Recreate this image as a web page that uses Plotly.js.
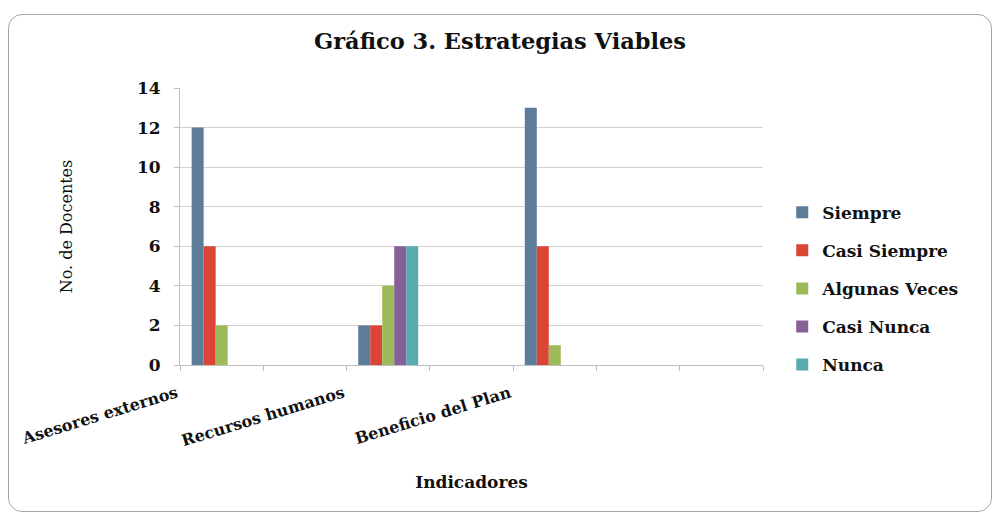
<!DOCTYPE html>
<html>
<head>
<meta charset="utf-8">
<script src="https://cdn.plot.ly/plotly-3.0.1.min.js"></script>
<style>
html,body{margin:0;padding:0;background:#fff;}
#chart{width:1000px;height:517px;}
#frame{position:absolute;left:8px;top:14px;width:982px;height:496px;border:1.5px solid #a6a6a6;border-radius:14px;pointer-events:none;}
</style>
</head>
<body>
<div id="chart"></div>
<div id="frame"></div>
<script>
// Category slots on the x axis (only three are labelled in the reference)
var categories = ["Asesores externos", " ", "Recursos humanos", "  ", "Beneficio del Plan", "   ", "    "];
var seriesNames = ["Siempre", "Casi Siempre", "Algunas Veces", "Casi Nunca", "Nunca"];
var siempre      = [12, null, 2, null, 13, null, null];
var casiSiempre  = [6,  null, 2, null, 6,  null, null];
var algunasVeces = [2,  null, 4, null, 1,  null, null];
var casiNunca    = [0,  null, 6, null, 0,  null, null];
var nunca        = [0,  null, 6, null, 0,  null, null];
var colors = ["#5d7c99", "#dc4436", "#9cbb58", "#87609a", "#5aabb0"];
var yTicks = [0, 2, 4, 6, 8, 10, 12, 14];

var values = [siempre, casiSiempre, algunasVeces, casiNunca, nunca];
var serif = "DejaVu Serif, Liberation Serif, serif";

var traces = values.map(function (v, i) {
  return {
    type: "bar",
    name: seriesNames[i],
    x: categories,
    y: v,
    legendgroup: "g" + i,
    marker: {color: colors[i]},
    hoverinfo: "x+y+name"
  };
});

var layout = {
  width: 1000,
  height: 517,
  margin: {l: 180, r: 237, t: 88, b: 152},
  paper_bgcolor: "#ffffff",
  plot_bgcolor: "#ffffff",
  barmode: "group",
  bargap: 0.28,
  bargroupgap: 0,
  showlegend: true,
  title: {
    text: "<b>Gráfico 3. Estrategias Viables</b>",
    font: {family: serif, size: 22.5, color: "#111"},
    x: 0.5, xref: "container", xanchor: "center",
    y: 0.935, yref: "container"
  },
  xaxis: {
    type: "category",
    categoryorder: "array",
    categoryarray: categories,
    tickson: "boundaries",
    ticks: "outside",
    ticklen: 5,
    tickcolor: "#bfbfbf",
    showline: true,
    linecolor: "#bfbfbf",
    linewidth: 1,
    showgrid: false,
    tickangle: -17,
    ticklabelshift: -45,
    ticklabelstandoff: 12,
    tickfont: {family: serif, size: 16, color: "#111", weight: "bold"},
    title: {
      text: "<b>Indicadores</b>",
      font: {family: serif, size: 17, color: "#111"},
      standoff: 26
    },
    automargin: false
  },
  yaxis: {
    range: [0, 14],
    tickvals: yTicks,
    ticktext: yTicks.map(String),
    ticks: "outside",
    ticklen: 5,
    tickcolor: "#bfbfbf",
    ticklabelstandoff: 10,
    showline: true,
    linecolor: "#bfbfbf",
    linewidth: 1,
    showgrid: true,
    gridcolor: "#d6cfcf",
    gridwidth: 1,
    zeroline: false,
    tickfont: {family: serif, size: 17, color: "#111", weight: "bold"},
    title: {
      text: "No. de Docentes",
      font: {family: serif, size: 16, color: "#111"},
      standoff: 60
    },
    automargin: false
  },
  legend: {
    x: 1.033,
    xanchor: "left",
    y: 0.615,
    yanchor: "top",
    tracegroupgap: 13,
    itemwidth: 30,
    font: {family: serif, size: 17, color: "#111", weight: "bold"},
    bgcolor: "rgba(0,0,0,0)"
  }
};

Plotly.newPlot("chart", traces, layout, {displayModeBar: false, staticPlot: true});
</script>
</body>
</html>
